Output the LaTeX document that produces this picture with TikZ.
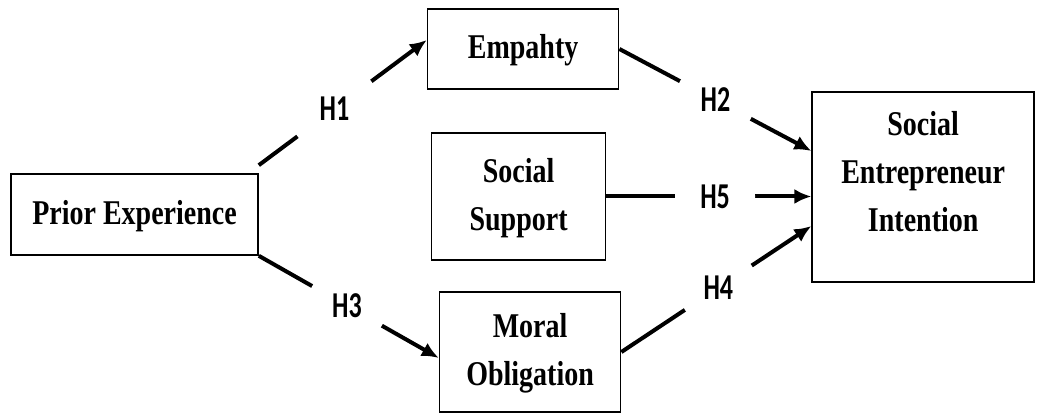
\documentclass[tikz,border=0pt]{standalone}
\usepackage{graphicx}
\usepackage{fontspec}
\setmainfont{Liberation Serif}
\newfontfamily\hypfont{Carlito}
\usetikzlibrary{arrows.meta,positioning}

% taller lettering, as in the figure
\newcommand{\tallbox}[1]{\scalebox{1}[1.24]{\begin{tabular}{@{}c@{}}#1\end{tabular}}}
\newcommand{\tallhyp}[1]{\scalebox{1}[1.4]{#1}}

\begin{document}
\begin{tikzpicture}[
    x=1pt, y=-1pt,
    box/.style={draw, line width=1.6pt, inner sep=0pt,
                font=\bfseries\fontsize{28}{38.7}\selectfont},
    arrow/.style={-{Latex[length=17pt,width=15pt]}, line width=4pt},
    hyp/.style={circle, fill=white, minimum size=#1, inner sep=0pt,
                font=\hypfont\bfseries\fontsize{26}{26}\selectfont},
    hyp/.default=80pt,
]
\useasboundingbox (0,0) rectangle (1039,419);

% Constructs
\node[box, minimum width=247pt, minimum height=81pt] (prior) at (134.5,214.5) {\tallbox{Prior Experience}};
\node[box, minimum width=191pt, minimum height=80pt, right=168pt of prior, yshift=165.5pt] (empathy) {\tallbox{Empahty}};
\node[box, minimum width=174pt, minimum height=127pt, right=172pt of prior, yshift=18pt] (support) {\tallbox{Social\\Support}};
\node[box, minimum width=181pt, minimum height=120pt, right=180pt of prior, yshift=-137.5pt] (moral) {\tallbox{Moral\\Obligation}};

% Outcome
\node[box, minimum width=222pt, minimum height=190pt, text depth=90pt, right=205pt of support, yshift=9.5pt] (sei) {\tallbox{Social\\Entrepreneur\\Intention}};

% Hypotheses
\draw[arrow] ([yshift=8pt]prior.north east) -- node[hyp=92pt, pos=0.45] (h1) {\tallhyp{H1}} ([yshift=9pt]empathy.west);
\draw[arrow] (empathy.east) -- node[hyp, pos=0.5] (h2) {\tallhyp{H2}} ([yshift=36pt]sei.west);
\draw[arrow] (support.east) -- node[hyp, pos=0.53] (h5) {\tallhyp{H5}} (support.east -| sei.west);
\draw[arrow] (prior.south east) -- node[hyp, pos=0.49] (h3) {\tallhyp{H3}} ([yshift=-6pt]moral.west);
\draw[arrow] (moral.east) -- node[hyp, pos=0.51] (h4) {\tallhyp{H4}} ([yshift=-39pt]sei.west);
\end{tikzpicture}
\end{document}
